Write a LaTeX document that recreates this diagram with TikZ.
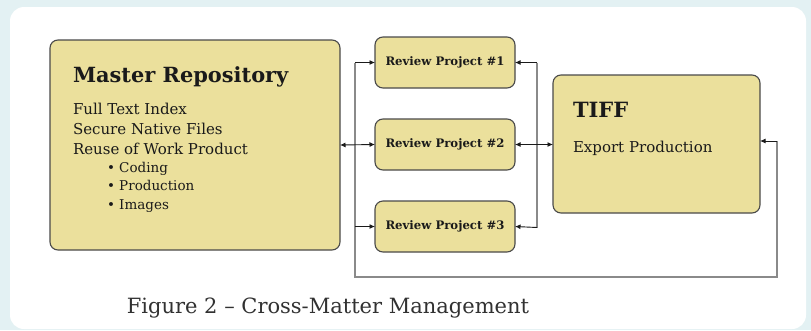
\documentclass[tikz,border=0pt]{standalone}
\usepackage{fontspec}
\setmainfont{DejaVu Serif}
\definecolor{panel}{HTML}{E3F1F3}
\definecolor{khaki}{HTML}{EBE09C}
\definecolor{edge}{HTML}{4A4A4A}
\definecolor{wire}{HTML}{8A8A8A}
\definecolor{ink}{HTML}{1A1A1A}
\usepackage{tikz}
\usetikzlibrary{arrows.meta}
\usetikzlibrary{positioning}
\tikzstyle{box}=[draw=edge, line width=1.1pt, fill=khaki, rounded corners=8pt, inner sep=0pt, outer sep=0pt]
\tikzstyle{review}=[box, minimum width=140pt, minimum height=51pt, text=ink, font=\bfseries\fontsize{11.7}{13}\selectfont]
\tikzstyle{txt}=[inner sep=0pt, outer sep=0pt, text=ink, anchor=base west]
\tikzstyle{bus}=[draw=wire, line width=1.6pt]
\tikzstyle{link}=[draw=ink, line width=0.9pt, -{Latex[length=5.5pt,width=5pt]}]

\begin{document}
\begin{tikzpicture}[x=1pt, y=-1pt]
    \path [use as bounding box, fill=panel] (0,0) rectangle (811,330);
    \fill [white, rounded corners=14pt] (10,7) rectangle (806,329);
    % boxes
    \node [box, minimum width=290pt, minimum height=210pt] (master) at (195,145) {};
    \node [review] (rp1) at (445,62.5) {Review Project \#1};
    \node [review, below=31pt of rp1] (rp2) {Review Project \#2};
    \node [review, below=31pt of rp2] (rp3) {Review Project \#3};
    \node [box, minimum width=207pt, minimum height=138pt] (tiff) at (656.5,144) {};
    % texts
    \node [txt, font=\bfseries\fontsize{20.9}{24}\selectfont] (mtitle) at (73,82) {Master Repository};
    \node [txt, font=\fontsize{15}{20}\selectfont, align=left, anchor=north west] (mbody) at (73,103)
        {Full Text Index\\Secure Native Files\\Reuse of Work Product};
    \node [txt, font=\fontsize{13.5}{18.5}\selectfont, align=left, anchor=north west] (mlist) at (107,162)
        {\textbullet\ Coding\\\textbullet\ Production\\\textbullet\ Images};
    \node [txt, font=\bfseries\fontsize{21}{24}\selectfont] (ttitle) at (573,117) {TIFF};
    \node [txt, font=\fontsize{15}{18}\selectfont] (tbody) at (573,152) {Export Production};
    \node [txt, anchor=base, text=ink!90, font=\fontsize{21}{24}\selectfont] (caption) at (328,313)
        {Figure 2 -- Cross-Matter Management};
    % connectors
    \coordinate (lbusT) at (355,62.5);
    \coordinate (lbusB) at (355,277);
    \coordinate (rbusB) at (777,277);
    \coordinate (tiffIn) at (777,141);
    \coordinate (mbusT) at (537,62.5);
    \coordinate (mbusB) at (537,227.5);
    \draw [bus] (lbusT) -- (lbusB) -- (rbusB) -- (tiffIn);
    \draw [bus] (mbusT) -- (mbusB);
    \draw [link] (lbusT) -- (rp1.west);
    \draw [link] (lbusT |- rp3.west) -- (rp3.west);
    \draw [link] (mbusT) -- (rp1.east);
    \draw [link] (mbusB) -- (rp3.east);
    \draw [link] (tiffIn) -- (tiffIn -| tiff.east);
    \draw [link, {Latex[length=5.5pt,width=5pt]}-{Latex[length=5.5pt,width=5pt]}] (master.east) -- (rp2.west);
    \draw [link, {Latex[length=5.5pt,width=5pt]}-{Latex[length=5.5pt,width=5pt]}] (rp2.east) -- (rp2.east -| tiff.west);
\end{tikzpicture}
\end{document}
